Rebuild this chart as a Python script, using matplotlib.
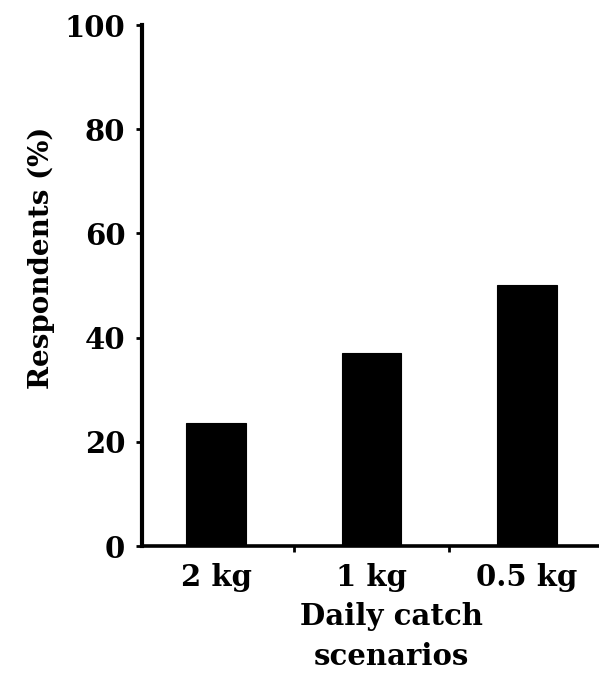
import matplotlib
matplotlib.use("Agg")
import matplotlib.pyplot as plt
from matplotlib.ticker import FixedLocator

# Share of respondents by daily catch scenario
scenarios = ["2 kg", "1 kg", "0.5 kg"]
respondents_pct = [23.6, 37.0, 50.1]
y_ticks = [0, 20, 40, 60, 80, 100]

plt.rcParams["font.family"] = ["DejaVu Serif"]

fig = plt.figure(figsize=(5.99, 6.76), dpi=100)
ax = fig.add_axes([0.2371, 0.1923, 0.7629, 0.7707])

pos = list(range(len(scenarios)))
ax.bar(pos, respondents_pct, width=0.38, color="black", edgecolor="black",
       linewidth=0.8, zorder=2)

ax.set_ylim(0, 100)
ax.set_xlim(-0.476, 2.463)

ax.set_yticks(y_ticks)
ax.set_yticklabels([str(v) for v in y_ticks], fontsize=21, fontweight="bold")
ax.set_xticks(pos)
ax.set_xticklabels(scenarios, fontsize=21, fontweight="bold")
ax.xaxis.set_minor_locator(FixedLocator([0.5, 1.5]))

ax.tick_params(axis="y", direction="out", length=4, width=2, pad=8)
ax.tick_params(axis="x", which="major", length=0, pad=12)
ax.tick_params(axis="x", which="minor", direction="out", length=4, width=2)

for side in ("top", "right"):
    ax.spines[side].set_visible(False)
ax.spines["left"].set_linewidth(3.0)
ax.spines["bottom"].set_linewidth(2.6)

ax.set_ylabel("Respondents (%)", fontsize=20, fontweight="bold")
ax.yaxis.set_label_coords(-0.19, 0.553)
ax.set_xlabel("Daily catch\nscenarios", fontsize=21, fontweight="bold",
              linespacing=1.45, va="top")
ax.xaxis.set_label_coords(0.545, -0.108)

fig.savefig("out.png", dpi=100)
